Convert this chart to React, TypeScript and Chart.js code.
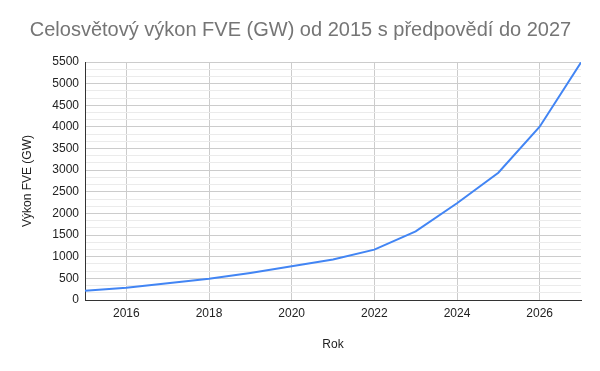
import React, { useEffect, useRef } from "react";
import { Chart, registerables } from "chart.js";

Chart.register(...registerables);

const years = [2015, 2016, 2017, 2018, 2019, 2020, 2021, 2022, 2023, 2024, 2025, 2026, 2027];
const capacityGW = [215, 285, 385, 490, 625, 778, 935, 1164, 1585, 2236, 2940, 4005, 5490];
const xTicks = [2016, 2018, 2020, 2022, 2024, 2026];
const yMajorStep = 500;
const yMax = 5500;

const titleText = "Celosvětový výkon FVE (GW) od 2015 s předpovědí do 2027";
const xTitle = "Rok";
const yTitle = "Výkon FVE (GW)";

export default function App() {
  const ref = useRef<HTMLCanvasElement | null>(null);

  useEffect(() => {
    document.body.style.margin = "0";
    const canvas = ref.current;
    if (!canvas) return;
    const font = "Arial, 'Liberation Sans', sans-serif";
    const isMajor = (v: number) => Math.abs(v / yMajorStep - Math.round(v / yMajorStep)) < 1e-6;
    const chart = new Chart(canvas, {
      type: "line",
      data: {
        datasets: [
          {
            data: years.map((y, i) => ({ x: y, y: capacityGW[i] })),
            borderColor: "#4285F4",
            backgroundColor: "#4285F4",
            borderWidth: 2,
            pointRadius: 0,
            tension: 0,
          },
        ],
      },
      options: {
        responsive: false,
        animation: false,
        layout: { padding: { left: 20, right: 19, top: 0, bottom: 19 } },
        plugins: {
          legend: { display: false },
          tooltip: { enabled: false },
          title: {
            display: true,
            text: titleText,
            color: "#757575",
            font: { family: font, size: 20, weight: "normal" },
            padding: { top: 18, bottom: 20 },
          },
        },
        scales: {
          x: {
            type: "linear",
            min: 2015,
            max: 2027,
            afterBuildTicks: (scale: any) => {
              scale.ticks = xTicks.map((v) => ({ value: v }));
            },
            afterFit: (scale: any) => {
              scale.height = 52;
            },
            ticks: {
              color: "#222",
              font: { family: font, size: 12 },
              padding: 6,
              maxRotation: 0,
              callback: (v: any) => String(v),
            },
            grid: { color: "#cccccc", drawTicks: false, lineWidth: 1 },
            border: { color: "#333333", width: 1 },
            title: {
              display: true,
              text: xTitle,
              color: "#222",
              font: { family: font, size: 12 },
              padding: 0,
            },
          },
          y: {
            type: "linear",
            min: 0,
            max: yMax,
            afterBuildTicks: (scale: any) => {
              const t: any[] = [];
              for (let i = 0; i <= (yMax / yMajorStep) * 3; i++) t.push({ value: (i * yMajorStep) / 3 });
              scale.ticks = t;
            },
            afterFit: (scale: any) => {
              scale.width = 65;
            },
            ticks: {
              color: "#222",
              font: { family: font, size: 12 },
              padding: 6,
              autoSkip: false,
              callback: (v: any) => (isMajor(Number(v)) ? String(Math.round(Number(v))) : ""),
            },
            grid: {
              drawTicks: false,
              color: (ctx: any) => (isMajor(ctx.tick?.value ?? 0) ? "#cccccc" : "#ebebeb"),
              lineWidth: 1,
            },
            border: { color: "#333333", width: 1 },
            title: {
              display: true,
              text: yTitle,
              color: "#222",
              font: { family: font, size: 12 },
              padding: 0,
            },
          },
        },
      },
    });
    return () => chart.destroy();
  }, []);

  return <canvas ref={ref} width={600} height={371} style={{ display: "block" }} />;
}
